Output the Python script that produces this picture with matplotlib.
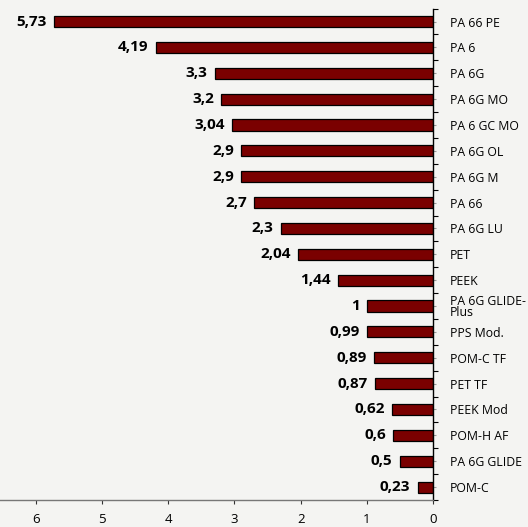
import matplotlib.pyplot as plt

materials = ['PA 66 PE', 'PA 6', 'PA 6G', 'PA 6G MO', 'PA 6 GC MO', 'PA 6G OL',
             'PA 6G M', 'PA 66', 'PA 6G LU', 'PET', 'PEEK', 'PA 6G GLIDE-\nPlus',
             'PPS Mod.', 'POM-C TF', 'PET TF', 'PEEK Mod', 'POM-H AF',
             'PA 6G GLIDE', 'POM-C']
values = [5.73, 4.19, 3.3, 3.2, 3.04, 2.9, 2.9, 2.7, 2.3, 2.04, 1.44, 1,
          0.99, 0.89, 0.87, 0.62, 0.6, 0.5, 0.23]
value_labels = ['5,73', '4,19', '3,3', '3,2', '3,04', '2,9', '2,9', '2,7', '2,3',
                '2,04', '1,44', '1', '0,99', '0,89', '0,87', '0,62', '0,6',
                '0,5', '0,23']
xticks = [6, 5, 4, 3, 2, 1, 0]

bg = '#f4f4f2'
plt.rcParams['font.family'] = ['Open Sans', 'DejaVu Sans']

fig = plt.figure(figsize=(5.28, 5.27), dpi=100, facecolor=bg)
ax = fig.add_axes([0, 0.0512, 0.820, 0.9325], facecolor=bg)

n = len(materials)
ypos = list(range(n))
ax.barh(ypos, values, height=0.43, color='#7a0000', edgecolor='black', linewidth=0.9)
for y, v, lab in zip(ypos, values, value_labels):
    ax.text(v + 0.11, y, lab, ha='right', va='center', fontsize=11,
            fontweight='bold')

ax.set_xlim(6.544, 0)
ax.set_ylim(n - 0.5, -0.5)
ax.yaxis.tick_right()
ax.set_yticks(ypos)
ax.set_yticklabels(materials, fontsize=8.8, linespacing=0.8)
ax.set_yticks([i - 0.5 for i in range(n + 1)], minor=True)
ax.tick_params(axis='y', which='major', length=2, color='#999999', pad=10)
ax.tick_params(axis='y', which='minor', length=3.5, width=0.8, color='black')
ax.set_xticks(xticks)
ax.tick_params(axis='x', length=3, width=0.8, color='#333333', labelsize=9.5, pad=6)

for s in ['top', 'left']:
    ax.spines[s].set_visible(False)
ax.spines['right'].set_linewidth(1.0)
ax.spines['bottom'].set_color('#777777')
ax.spines['bottom'].set_linewidth(1.0)

fig.savefig('out.png', dpi=100, facecolor=bg)
